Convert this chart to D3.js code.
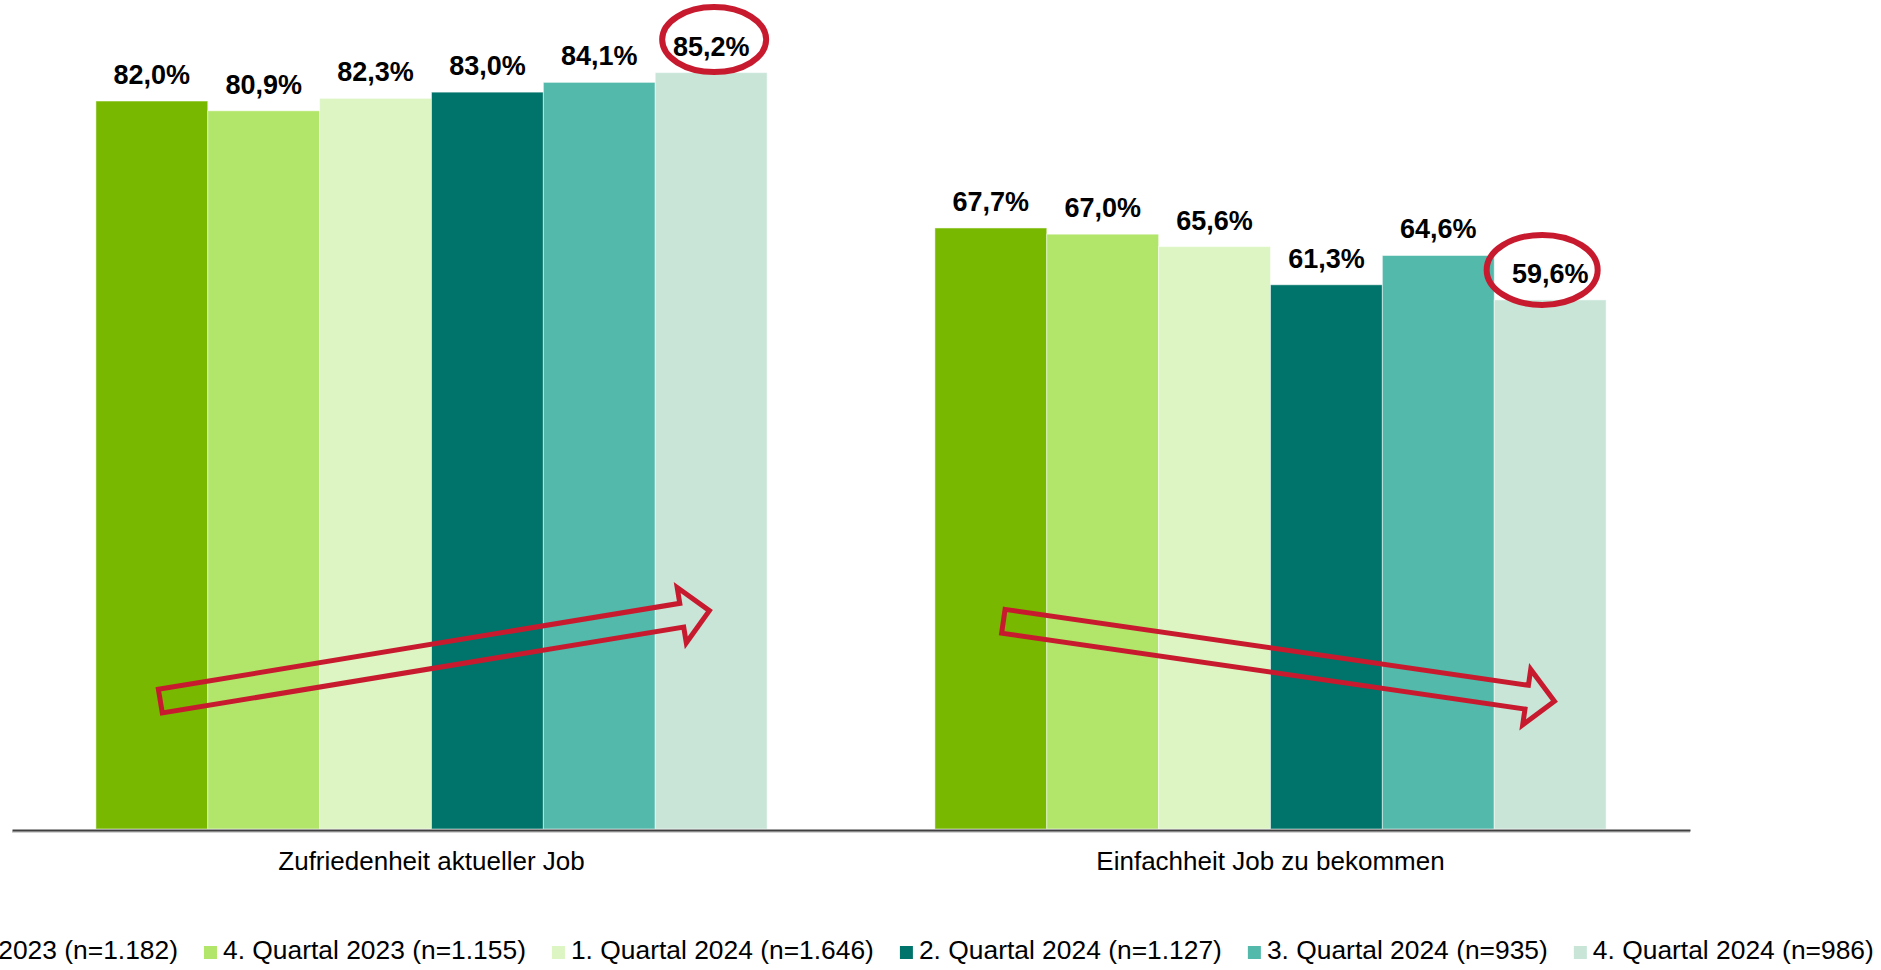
<!DOCTYPE html>
<html>
<head>
<meta charset="utf-8">
<script src="https://cdn.jsdelivr.net/npm/d3@7"></script>
<style>
  body { margin: 0; background: #fff; }
  text { font-family: "Liberation Sans", Arial, sans-serif; }
</style>
</head>
<body>
<script>
const width = 1881;
const height = 970;

const categories = ["Zufriedenheit aktueller Job", "Einfachheit Job zu bekommen"];
const quarters = [
    "3. Quartal 2023 (n=1.182)",
    "4. Quartal 2023 (n=1.155)",
    "1. Quartal 2024 (n=1.646)",
    "2. Quartal 2024 (n=1.127)",
    "3. Quartal 2024 (n=935)",
    "4. Quartal 2024 (n=986)"
];
const zufriedenheit = [82.0, 80.9, 82.3, 83.0, 84.1, 85.2];
const einfachheit = [67.7, 67.0, 65.6, 61.3, 64.6, 59.6];
const colors = ["#78b800", "#b2e66a", "#dcf5c3", "#00746a", "#52b9ab", "#c8e5d8"];

// red annotations: circled last value, trend arrows (x as share of group, y in %)
const highlights = [
    {cat: 0, idx: 5, dx: 3, dy: -16, rx: 52, ry: 32.5},
    {cat: 1, idx: 5, dx: -8, dy: -13, rx: 55.5, ry: 35}
];
const arrows = [
    {cat: 0, from: [0.096, 14.4], to: [0.914, 24.6]},
    {cat: 1, from: [0.102, 23.4], to: [0.923, 14.4]}
];

const series = [zufriedenheit, einfachheit];
const red = "#c81a2f";

const svg = d3.select("body").append("svg")
    .attr("width", width)
    .attr("height", height);

const x0 = d3.scaleBand()
    .domain(categories)
    .range([12, 1690])
    .paddingInner(0.2)
    .paddingOuter(0.1);

const x1 = d3.scaleBand()
    .domain(d3.range(quarters.length))
    .range([0, x0.bandwidth()]);

const y = d3.scaleLinear()
    .domain([0, 90])
    .range([829, 30]);

// bars
const groups = svg.append("g")
    .selectAll("g")
    .data(categories)
    .enter()
    .append("g")
    .attr("transform", d => `translate(${x0(d)},0)`);

groups.selectAll("rect")
    .data((d, i) => series[i].map((v, j) => ({v: v, j: j})))
    .enter()
    .append("rect")
    .attr("x", d => x1(d.j))
    .attr("width", x1.bandwidth())
    .attr("y", d => y(d.v))
    .attr("height", d => y(0) - y(d.v))
    .attr("fill", d => colors[d.j])
    .attr("stroke", "#fff")
    .attr("stroke-width", 1)
    .attr("stroke-opacity", 0.5);

groups.selectAll("text.val")
    .data((d, i) => series[i].map((v, j) => ({v: v, j: j})))
    .enter()
    .append("text")
    .attr("class", "val")
    .attr("x", d => x1(d.j) + x1.bandwidth() / 2)
    .attr("y", d => y(d.v) - 17)
    .attr("text-anchor", "middle")
    .style("font-size", "27px")
    .style("font-weight", "bold")
    .text(d => d.v.toFixed(1).replace(".", ",") + "%");

// axis
svg.append("line")
    .attr("x1", x0.range()[0]).attr("x2", x0.range()[1])
    .attr("y1", 832).attr("y2", 832)
    .attr("stroke", "#c4c4c4").attr("stroke-width", 1.5);

const xAxis = svg.append("g")
    .attr("transform", "translate(0,830)")
    .call(d3.axisBottom(x0).tickSize(0).tickSizeOuter(0).tickPadding(21.5));
xAxis.select(".domain").attr("stroke", "#404040").attr("stroke-width", 2);
xAxis.selectAll("text")
    .style("font-family", "'Liberation Sans', Arial, sans-serif")
    .style("font-size", "26px")
    .attr("fill", "#000");

// highlight ellipses
svg.append("g")
    .selectAll("ellipse")
    .data(highlights)
    .enter()
    .append("ellipse")
    .attr("cx", d => x0(categories[d.cat]) + x1(d.idx) + x1.bandwidth() / 2 + d.dx)
    .attr("cy", d => y(series[d.cat][d.idx]) - 17 + d.dy)
    .attr("rx", d => d.rx)
    .attr("ry", d => d.ry)
    .attr("fill", "none")
    .attr("stroke", red)
    .attr("stroke-width", 6);

// block arrows
function arrowPath(d) {
    const gx = x0(categories[d.cat]);
    const bw = x0.bandwidth();
    const t = [gx + d.from[0] * bw, y(d.from[1])];
    const p = [gx + d.to[0] * bw, y(d.to[1])];
    const len = Math.hypot(p[0] - t[0], p[1] - t[1]);
    const u = [(p[0] - t[0]) / len, (p[1] - t[1]) / len];
    const n = [-u[1], u[0]];
    const w = 12, hw = 28, hl = 28;
    const b = [p[0] - u[0] * hl, p[1] - u[1] * hl];
    const pt = (o, k) => [o[0] + n[0] * k, o[1] + n[1] * k];
    return d3.line()([
        pt(t, -w), pt(b, -w), pt(b, -hw), p, pt(b, hw), pt(b, w), pt(t, w)
    ]) + "Z";
}

svg.append("g")
    .selectAll("path")
    .data(arrows)
    .enter()
    .append("path")
    .attr("d", arrowPath)
    .attr("fill", "none")
    .attr("stroke", red)
    .attr("stroke-width", 5)
    .attr("stroke-linejoin", "miter")
    .attr("stroke-miterlimit", 10);

// legend
const legend = svg.append("g").attr("transform", "translate(-144,0)");
let lx = 0;
quarters.forEach((q, i) => {
    legend.append("rect")
        .attr("x", lx)
        .attr("y", 946)
        .attr("width", 13)
        .attr("height", 13)
        .attr("fill", colors[i]);
    const t = legend.append("text")
        .attr("x", lx + 19)
        .attr("y", 959)
        .style("font-size", "26.4px")
        .text(q);
    lx += 19 + t.node().getComputedTextLength() + 26;
});
</script>
</body>
</html>
